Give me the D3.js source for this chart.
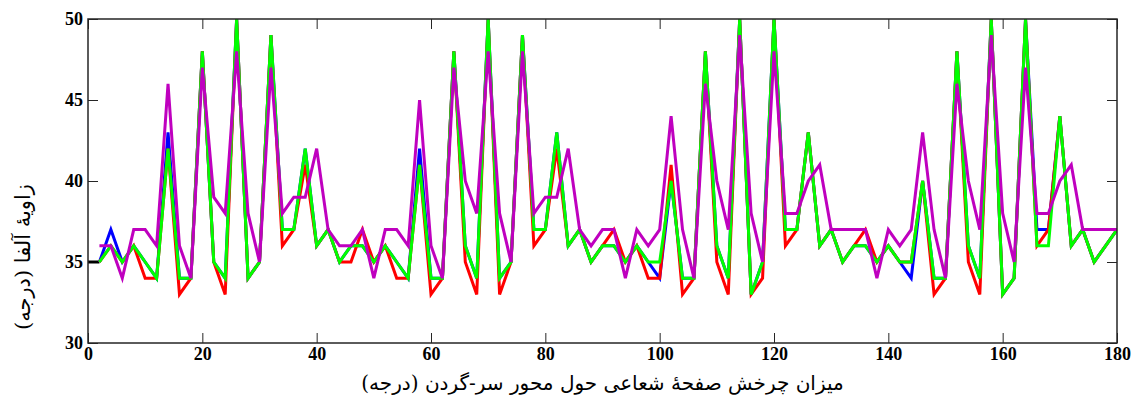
<!DOCTYPE html>
<html>
<head>
<meta charset="utf-8">
<script src="https://cdn.jsdelivr.net/npm/d3@7"></script>
<style>
  html, body { margin: 0; padding: 0; background: #fff; }
  svg { display: block; }
</style>
</head>
<body>
<svg id="chart" width="1131" height="398"></svg>
<script>
// ---- data ----
const angles = d3.range(2, 181, 2); // 2..180 degrees
const blueVals = [35,37,35,36,35,34,43,34,34,48,35,34,50,34,35,49,37,37,42,36,
                  37,35,36,36,35,36,35,34,42,34,34,48,36,34,50,34,35,49,37,37,
                  43,36,37,35,36,36,35,36,35,34,40,34,34,48,36,34,50,33,35,50,
                  37,37,43,36,37,35,36,36,35,36,35,34,40,34,34,48,36,34,50,33,
                  34,50,37,37,44,36,37,35,36,37];
const redVals  = [35,36,35,36,34,34,42,33,34,48,35,33,50,34,35,49,36,37,41,36,
                  37,35,35,37,35,36,34,34,41,33,34,48,35,33,50,33,35,49,36,37,
                  42,36,37,35,36,37,35,36,34,34,41,33,34,48,35,33,50,33,34,50,
                  36,37,43,36,37,35,36,37,35,36,35,35,40,33,34,48,35,33,50,33,
                  34,50,36,37,44,36,37,35,36,37];
const greenVals= [35,36,35,36,35,34,42,34,34,48,35,34,50,34,35,49,37,37,42,36,
                  37,35,36,36,35,36,35,34,41,34,34,48,36,34,50,34,35,49,37,37,
                  43,36,37,35,36,36,35,36,35,35,40,34,34,48,36,34,50,33,35,50,
                  37,37,43,36,37,35,36,36,35,36,35,35,40,34,34,48,36,34,50,33,
                  34,50,36,36,44,36,37,35,36,37];
const magentaVals=[36,36,34,37,37,36,46,36,34,47,39,38,48,38,35,47,38,39,39,42,
                  37,36,36,37,34,37,37,36,45,36,34,47,40,38,48,38,35,48,38,39,
                  39,42,37,36,37,37,34,37,36,37,44,37,34,46,40,37,49,38,35,48,
                  38,38,40,41,37,37,37,37,34,37,36,37,43,37,34,46,40,37,49,38,
                  35,47,38,38,40,41,37,37,37,37];
const blackAngles = [0, 2];
const blackVals = [35, 35];

const xTicks = [0,20,40,60,80,100,120,140,160,180];
const yTicks = [30,35,40,45,50];
const xLabel = "میزان چرخش صفحهٔ شعاعی حول محور سر-گردن (درجه)";
const yLabel = "زاویهٔ آلفا (درجه)";

// ---- layout ----
const L = 88, R = 1117, T = 19, B = 343;
const svg = d3.select("#chart");
const x = d3.scaleLinear().domain([0, 180]).range([L, R]);
const y = d3.scaleLinear().domain([30, 50]).range([B, T]);

svg.append("defs").append("clipPath").attr("id", "clip")
  .append("rect").attr("x", L).attr("y", T).attr("width", R - L).attr("height", B - T);

const tickFont = "'Liberation Serif', 'Times New Roman', serif";
const axisColor = "#262626";

function styleAxis(g, showLabels) {
  g.select(".domain").remove();
  g.selectAll(".tick line").attr("stroke", axisColor).attr("stroke-width", 1);
  g.selectAll(".tick text")
    .attr("fill", "#000")
    .style("font-family", tickFont)
    .style("font-weight", "bold")
    .style("font-size", "18px");
  if (!showLabels) g.selectAll(".tick text").remove();
}

svg.append("g").attr("transform", `translate(0,${B})`)
  .call(d3.axisBottom(x).tickValues(xTicks).tickSize(-10).tickPadding(4).tickFormat(d3.format("d")))
  .call(g => styleAxis(g, true));
svg.append("g").attr("transform", `translate(0,${T})`)
  .call(d3.axisTop(x).tickValues(xTicks).tickSize(-10))
  .call(g => styleAxis(g, false));
svg.append("g").attr("transform", `translate(${L},0)`)
  .call(d3.axisLeft(y).tickValues(yTicks).tickSize(-10).tickPadding(5).tickFormat(d3.format("d")))
  .call(g => styleAxis(g, true));
svg.append("g").attr("transform", `translate(${R},0)`)
  .call(d3.axisRight(y).tickValues(yTicks).tickSize(-10))
  .call(g => styleAxis(g, false));

// ---- lines ----
const line = d3.line().x(d => x(d[0])).y(d => y(d[1]));
const plot = svg.append("g").attr("clip-path", "url(#clip)");
const series = [
  { xs: blackAngles, vals: blackVals, color: "#000000" },
  { xs: angles, vals: blueVals, color: "#0000ff" },
  { xs: angles, vals: redVals, color: "#ff0000" },
  { xs: angles, vals: greenVals, color: "#00ff00" },
  { xs: angles, vals: magentaVals, color: "#bf00bf" }
];
series.forEach(s => {
  plot.append("path")
    .datum(s.xs.map((a, i) => [a, s.vals[i]]))
    .attr("fill", "none")
    .attr("stroke", s.color)
    .attr("stroke-width", 3)
    .attr("stroke-linejoin", "miter")
    .attr("d", line);
});

// ---- box ----
svg.append("rect").attr("x", L).attr("y", T).attr("width", R - L).attr("height", B - T)
  .attr("fill", "none").attr("stroke", axisColor).attr("stroke-width", 1.5);

// ---- axis titles ----
const labelFont = "'DejaVu Serif', 'Noto Sans', 'DejaVu Sans', serif";
svg.append("text")
  .attr("x", (L + R) / 2).attr("y", 390)
  .attr("text-anchor", "middle").attr("direction", "rtl")
  .style("font-family", labelFont).style("font-size", "20px")
  .attr("fill", "#000")
  .text(xLabel);
svg.append("text")
  .attr("transform", `translate(30,257) rotate(-90)`)
  .attr("text-anchor", "middle").attr("direction", "rtl")
  .style("font-family", labelFont).style("font-size", "21px")
  .attr("fill", "#000")
  .text(yLabel);
</script>
</body>
</html>
